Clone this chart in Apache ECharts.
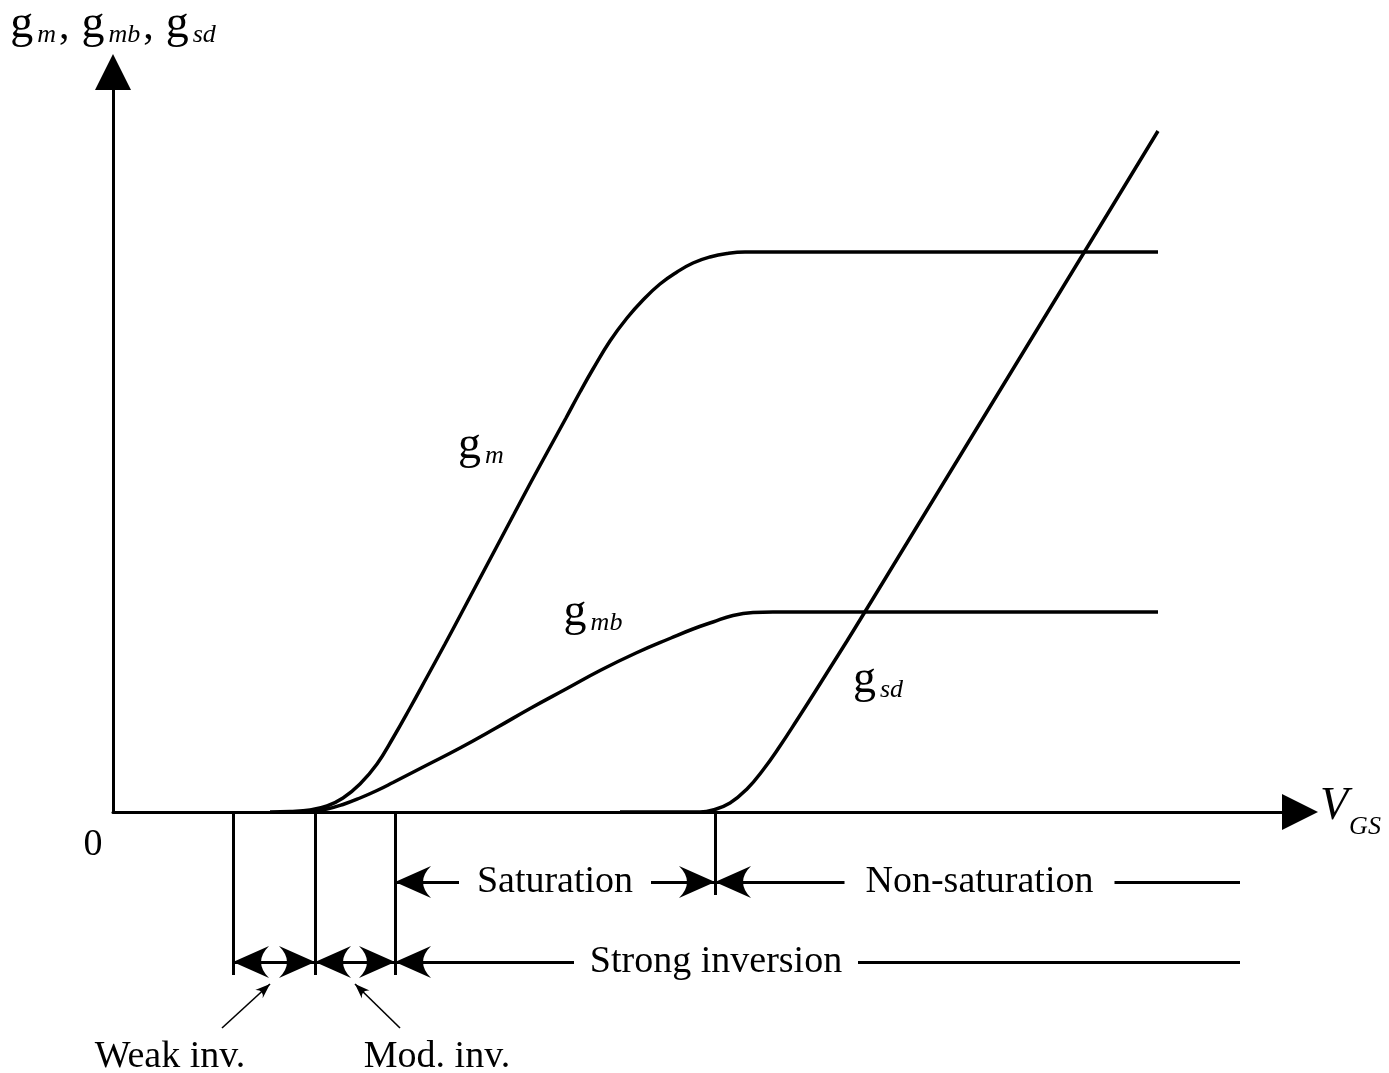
<!DOCTYPE html>
<html>
<head>
<meta charset="utf-8">
<script src="https://cdn.jsdelivr.net/npm/echarts@6/dist/echarts.min.js"></script>
<style>
html, body { margin: 0; padding: 0; background: #ffffff; }
#chart { width: 1389px; height: 1073px; }
</style>
</head>
<body>
<div id="chart"></div>
<script>
// ---------------- data (schematic units: V_GS along x, conductance along y) ----------------
const gm  = [[157,0],[177,0.5],[197,2],[214,6],[230,14],[247,28],[264,48],[280,74],[297,104],[314,135],[332,168],[348,198],[366,232],[383,264],[401,298],[418,330],[436,363],[453,394],[467,420],[480,443],[497,471],[514,494],[530,512],[547,528],[564,540],[580,549],[597,555],[614,558.5],[632,560],[660,560],[1045,560]];
const gmb = [[177,0],[197,0.8],[214,3],[230,7.5],[247,14],[264,21.5],[280,29.5],[314,47],[347,64],[383,84],[418,104],[453,123],[488,142],[523,159],[558,174],[580,183],[600,190],[620,196.5],[640,199.5],[660,200],[1045,200]];
const gsd = [[507,0],[587,0],[600,2],[617,9],[634,23],[650,42],[667,66],[684,92],[700,117],[717,144],[734,171],[750,197],[800,279],[850,361],[900,443],[950,525],[1000,607],[1045,681]];
const curveSubscripts = ['m', 'mb', 'sd'];
// region boundaries on the V_GS axis: weak inv. start, moderate inv. start, strong inv. start, non-saturation start
const regionBounds = [120, 202, 282, 602];
const regionEnd = 1127;
const rowLabels = ['Saturation', 'Non-saturation', 'Strong inversion'];
const sideLabels = ['Weak inv.', 'Mod. inv.'];
const originLabel = '0';
const xAxisName = { main: 'V', sub: 'GS' };
const yAxisMain = 'g';

// ---------------- layout / style constants ----------------
const X_MAX = 1187, Y_MAX = 740;
const ROW1 = 70, ROW2 = 150, TICK_LONG = 163, TICK_SHORT = 83, NOTE_Y = 245, POINTER_TIP = 172;
const SERIF = '"Liberation Serif", "Times New Roman", serif';
const ARROW = 'path://M0,0L16,36Q0,20 -16,36Z';
const LW = 3;

const [bWeak, bMod, bStrong, bNon] = regionBounds;
const labelCenters = {
  'Saturation': [(bStrong + bNon) / 2, ROW1, 96],
  'Non-saturation': [(bNon + regionEnd) / 2 + 2, ROW1, 135],
  'Strong inversion': [bNon + 1, ROW2, 142]
};

function seg(x1, y1, x2, y2, endArrow, style) {
  const end = { coord: [x2, y2] };
  if (endArrow) {
    end.symbol = ARROW;
    end.symbolSize = style && style.small ? [11, 15] : [32, 36];
    end.symbolOffset = [0, '50%'];
  } else {
    end.symbol = 'none';
  }
  return [
    { coord: [x1, y1], symbol: 'none',
      lineStyle: { color: '#000', width: style && style.small ? 1.6 : LW, type: 'solid' } },
    end
  ];
}

const lines = [];
// boundary ticks
[bWeak, bMod, bStrong].forEach(b => lines.push(seg(b, 0, b, TICK_LONG, false)));
lines.push(seg(bNon, 0, bNon, TICK_SHORT, false));
// rows: Saturation / Non-saturation / Strong inversion
rowLabels.forEach(name => {
  const [c, y, g] = labelCenters[name];
  if (name === 'Saturation') {
    lines.push(seg(c - g, y, bStrong, y, true));
    lines.push(seg(c + g, y, bNon, y, true));
  } else if (name === 'Non-saturation') {
    lines.push(seg(c - g, y, bNon, y, true));
    lines.push(seg(c + g, y, regionEnd, y, false));
  } else {
    lines.push(seg(c - g, y, bStrong, y, true));
    lines.push(seg(c + g, y, regionEnd, y, false));
  }
});
// weak / moderate double arrows
const midWeak = (bWeak + bMod) / 2, midMod = (bMod + bStrong) / 2;
lines.push(seg(midWeak, ROW2, bWeak, ROW2, true));
lines.push(seg(midWeak, ROW2, bMod, ROW2, true));
lines.push(seg(midMod, ROW2, bMod, ROW2, true));
lines.push(seg(midMod, ROW2, bStrong, ROW2, true));
// pointers from the notes
lines.push(seg(midWeak - 52, 216, midWeak - 4, POINTER_TIP, true, { small: true }));
lines.push(seg(midMod + 45, 216, midMod, POINTER_TIP, true, { small: true }));

const textPoints = [
  ...rowLabels.map(n => ({ name: n, value: [labelCenters[n][0], labelCenters[n][1]] })),
  { name: sideLabels[0], value: [midWeak - 104, NOTE_Y] },
  { name: sideLabels[1], value: [midMod + 82, NOTE_Y] },
  { name: originLabel, value: [-20, 33] }
];

const gRich = {
  g: { fontFamily: SERIF, fontSize: 46, color: '#000', verticalAlign: 'bottom' },
  s: { fontFamily: SERIF, fontStyle: 'italic', fontSize: 26, color: '#000', verticalAlign: 'bottom', padding: [0, 0, 0, 4] },
  c: { fontFamily: SERIF, fontSize: 42, color: '#000', verticalAlign: 'bottom', padding: [0, 12, 0, 3] }
};

function curveLabel(sub, coord) {
  return {
    symbol: 'circle', symbolSize: 0, silent: true,
    label: { show: true, position: 'inside', formatter: '{g|g}{s|' + sub + '}', rich: gRich },
    data: [{ coord: coord }]
  };
}

const curveStyle = { color: '#000', width: 3.5 };

const chart = echarts.init(document.getElementById('chart'), null, { renderer: 'canvas' });
chart.setOption({
  animation: false,
  backgroundColor: '#ffffff',
  grid: [
    { left: 113, right: 1389 - 113 - X_MAX, top: 812 - Y_MAX, bottom: 1073 - 812, containLabel: false },
    { left: 0, right: 1389 - 113 - X_MAX, top: 812, bottom: 1, containLabel: false }
  ],
  xAxis: [
    {
      type: 'value', gridIndex: 0, min: 0, max: X_MAX,
      axisLine: { show: true, onZero: true, symbol: ['none', 'triangle'], symbolSize: [36, 36],
                  lineStyle: { color: '#000', width: LW } },
      axisTick: { show: false }, axisLabel: { show: false }, splitLine: { show: false },
      name: '{v|' + xAxisName.main + '}{s|' + xAxisName.sub + '}',
      nameLocation: 'end', nameGap: 20,
      nameTextStyle: { rich: {
        v: { fontFamily: SERIF, fontStyle: 'italic', fontSize: 46, color: '#000', verticalAlign: 'bottom', padding: [0, 0, 11, 0] },
        s: { fontFamily: SERIF, fontStyle: 'italic', fontSize: 26, color: '#000', verticalAlign: 'bottom', padding: [0, 0, 0, 1] }
      } }
    },
    { type: 'value', gridIndex: 1, min: -113, max: X_MAX, show: false }
  ],
  yAxis: [
    {
      type: 'value', gridIndex: 0, min: 0, max: Y_MAX,
      axisLine: { show: true, onZero: true, symbol: ['none', 'triangle'], symbolSize: [36, 36],
                  lineStyle: { color: '#000', width: LW } },
      axisTick: { show: false }, axisLabel: { show: false }, splitLine: { show: false },
      name: curveSubscripts.map(s => '{g|' + yAxisMain + '}{s|' + s + '}').join('{c|,}'),
      nameLocation: 'end', nameGap: 24,
      nameTextStyle: { rich: gRich }
    },
    { type: 'value', gridIndex: 1, min: 0, max: 260, inverse: true, show: false }
  ],
  series: [
    { name: 'gm', type: 'line', data: gm, xAxisIndex: 0, yAxisIndex: 0, showSymbol: false, smooth: 0.45,
      lineStyle: curveStyle, silent: true,
      markPoint: curveLabel(curveSubscripts[0], [368, 366]) },
    { name: 'gmb', type: 'line', data: gmb, xAxisIndex: 0, yAxisIndex: 0, showSymbol: false, smooth: 0.45,
      lineStyle: curveStyle, silent: true,
      markPoint: curveLabel(curveSubscripts[1], [480, 199]) },
    { name: 'gsd', type: 'line', data: gsd, xAxisIndex: 0, yAxisIndex: 0, showSymbol: false, smooth: 0.45,
      lineStyle: curveStyle, silent: true,
      markPoint: curveLabel(curveSubscripts[2], [765, 132]) },
    {
      name: 'regions', type: 'scatter', xAxisIndex: 1, yAxisIndex: 1, silent: true,
      symbolSize: 0, data: textPoints, itemStyle: { opacity: 1 },
      label: { show: true, position: 'inside', formatter: '{b}', fontFamily: SERIF, fontSize: 38, color: '#000', opacity: 1 },
      markLine: {
        silent: true, animation: false,
        label: { show: false },
        emphasis: { disabled: true },
        lineStyle: { color: '#000', width: LW, type: 'solid', cap: 'butt' },
        data: lines
      }
    }
  ]
});
</script>
</body>
</html>
